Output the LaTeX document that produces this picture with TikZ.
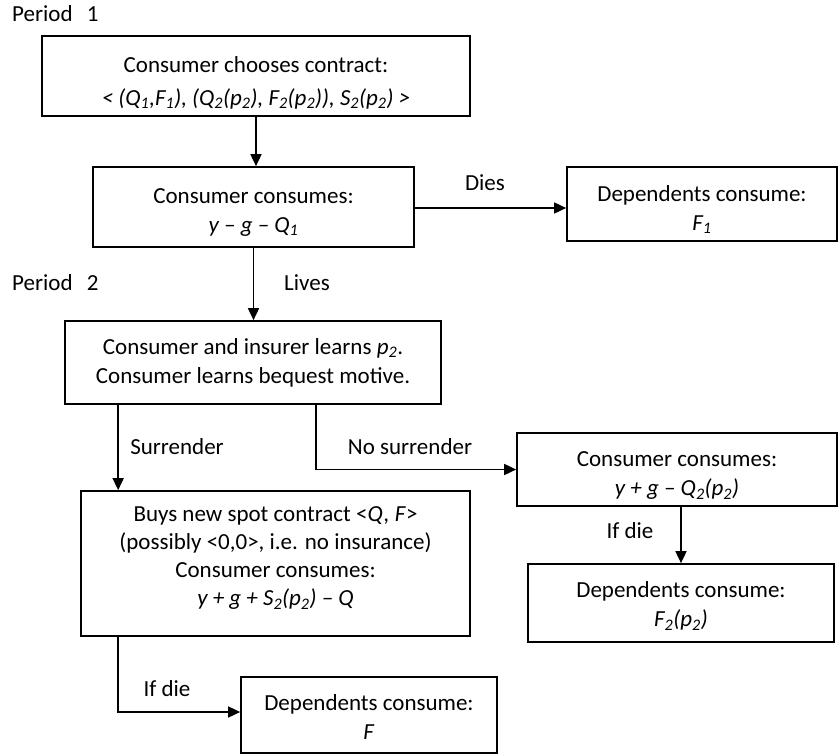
\documentclass[tikz,border=0pt]{standalone}
\usepackage{fontspec}
\setmainfont{Carlito}
\usetikzlibrary{arrows.meta,calc}
\newcommand{\sbs}[1]{\textsubscript{#1}}
\newcommand{\upstrut}[1]{\rule{0pt}{#1}}
\newcommand{\dnstrut}[1]{\rule[-#1]{0pt}{0pt}}
\begin{document}
\begin{tikzpicture}[x=1pt,y=-1pt,
  every node/.style={font=\fontsize{23}{29}\selectfont, inner sep=0pt},
  box/.style={draw, line width=1.7pt, align=center, rectangle},
  arr/.style={line width=1.7pt, -{Triangle[length=12pt,width=11pt]}}]
\useasboundingbox (0,0) rectangle (838,755);
% boxes
\node[box, minimum width=428pt, minimum height=80pt, font=\fontsize{23}{33}\selectfont] (b1) at (256,76)
  {\upstrut{29pt}Consumer chooses contract:\\ \textit{< (Q\sbs{1},F\sbs{1}), (Q\sbs{2}(p\sbs{2}), F\sbs{2}(p\sbs{2})), S\sbs{2}(p\sbs{2}) >}};
\node[box, minimum width=321pt, minimum height=80pt] (b2) at (253.5,207)
  {\upstrut{25pt}Consumer consumes:\\ \textit{y -- g -- Q\sbs{1}}};
\node[box, minimum width=270pt, minimum height=74pt] (d1) at (702,204)
  {\upstrut{27pt}Dependents consume:\\ \textit{F\sbs{1}}};
\node[box, minimum width=376pt, minimum height=83pt] (b3) at (253,362.5)
  {Consumer and insurer learns \textit{p\sbs{2}}.\\ Consumer learns bequest motive.};
\node[box, minimum width=320pt, minimum height=73pt] (b4) at (677,469.5)
  {\upstrut{27pt}Consumer consumes:\\ \textit{y + g -- Q\sbs{2}(p\sbs{2})}};
\node[box, minimum width=306pt, minimum height=78pt] (d2) at (681,603)
  {\upstrut{22pt}Dependents consume:\\ \textit{F\sbs{2}(p\sbs{2})}};
\node[box, minimum width=389pt, minimum height=145pt, font=\fontsize{23}{28}\selectfont] (b5) at (275.5,563.5)
  {Buys new spot contract <\textit{Q, F}>\\ (possibly <0,0>, i.e. no insurance)\\ Consumer consumes:\\ \textit{y + g + S\sbs{2}(p\sbs{2}) -- Q}\dnstrut{15pt}};
\node[box, minimum width=256pt, minimum height=76pt] (d3) at (369,715)
  {\upstrut{20pt}Dependents consume:\\ \textit{F}};
% labels
\node[anchor=west] (p1) at (12,14) {Period\hspace{0.62em}1};
\node[anchor=west] (p2) at (12,283) {Period\hspace{0.62em}2};
\node (dies) at (485,183) {Dies};
\node (lives) at (307,283) {Lives};
\node (surr) at (177,447) {Surrender};
\node (nosurr) at (410,447) {No surrender};
\node (ifdie1) at (630,531) {If die};
\node (ifdie2) at (167,689) {If die};
% connector end points on the boxes
\coordinate (e2) at ($(b2.east)+(0,1)$);
\coordinate (s3) at ($(b3.south west)+(54,0)$);
\coordinate (n3) at ($(b3.south west)+(252,0)$);
\coordinate (s5) at ($(b5.south west)+(38,0)$);
\coordinate (w6) at ($(d3.west)+(0,-3)$);
% connectors
\draw[arr] (b1.south) -- (b1.south |- b2.north);
\draw[arr] (e2) -- (e2 -| d1.west);
\draw[arr] (b2.south) -- (b2.south |- b3.north);
\draw[arr] (s3) -- (s3 |- b5.north);
\draw[arr] (n3) |- (b4.west);
\draw[arr] (d2.north |- b4.south) -- (d2.north);
\draw[arr] (s5) |- (w6);
\end{tikzpicture}
\end{document}
